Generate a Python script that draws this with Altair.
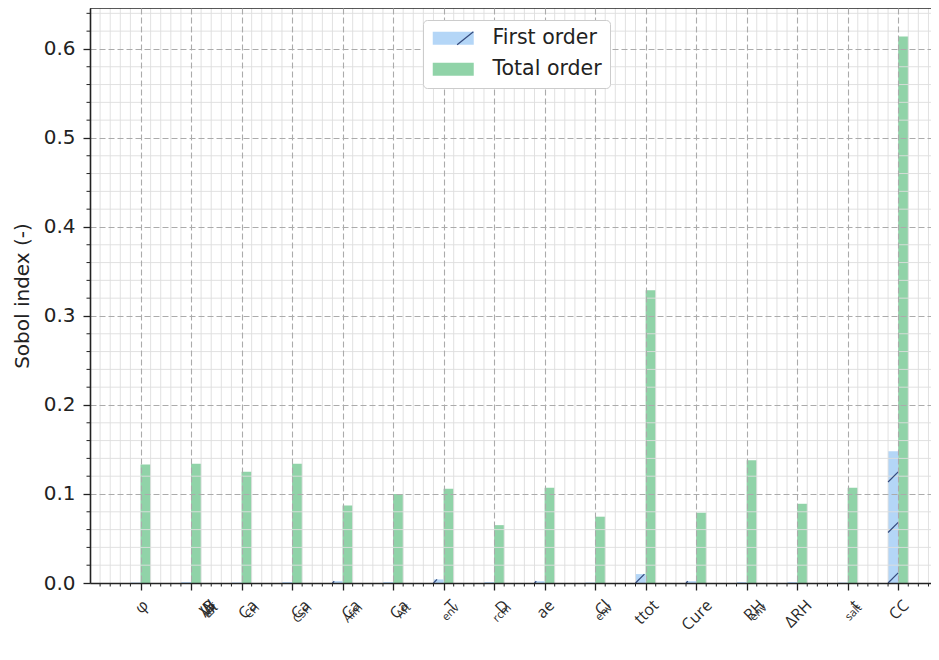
import altair as alt
import pandas as pd

# ---------------- data ----------------
series_names = ["First order", "Total order"]
first_order = [0.0005, 0.001, 0.0005, 0.001, 0.002, 0.001, 0.004, 0.001,
               0.002, 0.0005, 0.010, 0.002, 0.001, 0.001, 0.0005, 0.148]
total_order = [0.133, 0.134, 0.125, 0.134, 0.087, 0.100, 0.106, 0.065,
               0.107, 0.0745, 0.329, 0.079, 0.138, 0.089, 0.107, 0.614]
# tick labels: (text, is_subscript) pieces
tick_labels = [
    [("φ", 0)],
    [("W", 0), ("eff", 1), ("/B", 0), ("tot", 1)],
    [("Ca", 0), ("CH", 1)],
    [("Ca", 0), ("CSH", 1)],
    [("Ca", 0), ("Afm", 1)],
    [("Ca", 0), ("Aft", 1)],
    [("T", 0), ("env", 1)],
    [("D", 0), ("rcm", 1)],
    [("ae", 0)],
    [("Cl", 0), ("env", 1)],
    [("ttot", 0)],
    [("Cure", 0)],
    [("RH", 0), ("env", 1)],
    [("ΔRH", 0)],
    [("t", 0), ("salt", 1)],
    [("CC", 0)],
]
y_major = [0.0, 0.1, 0.2, 0.3, 0.4, 0.5, 0.6]

# ---------------- layout ----------------
W_PLOT, H_PLOT = 841, 575
XMIN, XMAX = -1.0, 15.65
YMAX = 0.646
PPU_X = W_PLOT / (XMAX - XMIN)
PPU_Y = H_PLOT / YMAX
BAR_W = 0.2
MINOR_TICK = 3.5

BLUE = "#b4d6f7"
GREEN = "#90d3a8"
HATCH = "#34497c"
DARK = "#222222"
MINOR_GRID = "#dedede"

n = len(total_order)
df_tot = pd.DataFrame({
    "x": [float(i) for i in range(n)],
    "x2": [i + BAR_W for i in range(n)],
    "y": total_order,
    "y2": [0.0] * n,
    "series": [series_names[1]] * n,
})
df_first = pd.DataFrame({
    "x": [i - BAR_W for i in range(n)],
    "x2": [float(i) for i in range(n)],
    "y": first_order,
    "y2": [0.0] * n,
    "series": [series_names[0]] * n,
})

# hatch segments ("/") inside first-order bars
HATCH_SPACING = 50.5 / PPU_Y
full_dy = BAR_W * PPU_X / PPU_Y
hatch_rows = []
for i, v in enumerate(first_order):
    if v < 0.0015:
        continue
    k = 0
    while k * HATCH_SPACING < v:
        y0 = k * HATCH_SPACING
        x0 = i - BAR_W
        if y0 + full_dy <= v:
            x1, y1 = float(i), y0 + full_dy
        else:
            x1, y1 = x0 + (v - y0) / full_dy * BAR_W, v
        hatch_rows.append({"x": x0, "x2": x1, "y": y0, "y2": y1, "hkey": "h1"})
        k += 1
df_hatch = pd.DataFrame(hatch_rows)

# minor grid / ticks
minor_x = [round(XMIN + 0.2 * k, 1) for k in range(1, 84)
           if abs(XMIN + 0.2 * k - round(XMIN + 0.2 * k)) > 1e-6]
minor_y = [round(0.02 * k, 2) for k in range(1, 33) if k % 5 != 0]
df_vgrid = pd.DataFrame({"x": minor_x, "x2": minor_x,
                         "y": [0.0] * len(minor_x), "y2": [YMAX] * len(minor_x)})
df_hgrid = pd.DataFrame({"x": [XMIN] * len(minor_y), "x2": [XMAX] * len(minor_y),
                         "y": minor_y, "y2": minor_y})
df_vtick = pd.DataFrame({"x": minor_x, "x2": minor_x,
                         "y": [0.0] * len(minor_x),
                         "y2": [-MINOR_TICK / PPU_Y] * len(minor_x)})
df_htick = pd.DataFrame({"x": [XMIN] * len(minor_y),
                         "x2": [XMIN - MINOR_TICK / PPU_X] * len(minor_y),
                         "y": minor_y, "y2": minor_y})
df_spine = pd.DataFrame({"x": [XMIN], "x2": [XMAX], "y": [YMAX], "y2": [YMAX]})

# ---------------- rotated tick labels built from axis labels ----------------
CW = {"a": .556, "b": .613, "c": .476, "d": .613, "e": .561, "f": .339, "i": .253,
      "l": .253, "m": .930, "n": .614, "o": .604, "r": .408, "s": .477, "t": .353,
      "u": .614, "v": .501, "A": .633, "B": .648, "C": .631, "D": .729, "H": .738,
      "R": .631, "S": .550, "T": .556, "W": .928, "/": .363, "Δ": .62, "φ": .77}
FS_MAIN, FS_SUB = 16.0, 11.2
NBSP = "\u00a0"
SP_EM = 0.26
LABEL_PAD = 23.0
SUB_SHIFT = 1.8


def tw(s, fs):
    return sum(CW.get(ch, 0.6) for ch in s) * fs


N_SLOTS = 4
slot_text = [[""] * n for _ in range(N_SLOTS)]
centre_shift = []
for i, segs in enumerate(tick_labels):
    widths = [tw(t, FS_SUB if sub else FS_MAIN) for t, sub in segs]
    total_w = sum(widths)
    centre_shift.append(0.354 * total_w + 4.0)
    for j, ((t, sub), w) in enumerate(zip(segs, widths)):
        fs = FS_SUB if sub else FS_MAIN
        after = sum(widths[j + 1:])
        npad = int(round(after / (SP_EM * fs)))
        slot_text[j][i] = t + NBSP * npad

# ---------------- scales / axes / legends ----------------
sx = alt.Scale(domain=[XMIN, XMAX], nice=False, zero=False)
sy = alt.Scale(domain=[0, YMAX], nice=False, zero=False)
color_scale = alt.Scale(domain=series_names, range=[BLUE, GREEN])
hatch_scale = alt.Scale(domain=["h1", "h2"], range=[HATCH, "rgba(0,0,0,0)"])

AX_X = alt.Axis(values=list(range(n)), orient="bottom", labels=False,
                tickSize=7, tickWidth=1.3, tickColor=DARK,
                grid=True, gridColor="#ababab", gridWidth=1.1,
                gridDash=[6, 3], domain=True, domainColor=DARK,
                domainWidth=1.6, title=None, zindex=1)
AX_Y = alt.Axis(values=y_major, format=".1f", orient="left",
                labelFont="DejaVu Sans", labelFontSize=20,
                labelColor=DARK, labelPadding=8,
                tickSize=7, tickWidth=1.3, tickColor=DARK,
                grid=True, gridColor="#ababab", gridWidth=1.1,
                gridDash=[6, 3], domain=True, domainColor=DARK,
                domainWidth=1.6, title="Sobol index (-)",
                titleFont="DejaVu Sans", titleFontSize=20,
                titleFontWeight="normal", titleColor=DARK,
                titleX=-68, titleBaseline="middle", zindex=1)

leg_common = dict(title=None, orient="none", legendX=333, legendY=12,
                  direction="vertical", symbolSize=169, symbolOffset=12,
                  labelFont="DejaVu Sans", labelFontSize=20.5, labelOffset=29,
                  padding=8, rowPadding=10, labelLimit=400)
fill_legend = alt.Legend(symbolType="M-3.154,-1H3.154V1H-3.154Z",
                         symbolStrokeWidth=0, labelColor=DARK,
                         strokeColor="#cccccc", fillColor="#ffffff",
                         cornerRadius=4, zindex=3, **leg_common)
hatch_legend = alt.Legend(symbolType="M0.6,1L3.1,-1", symbolStrokeWidth=1.2,
                          symbolFillColor="transparent", labelExpr="' '",
                          labelColor="rgba(0,0,0,0)", zindex=4, **leg_common)


def pos(chart, ax_x=None, ax_y=None, with2=True):
    enc = dict(x=alt.X("x:Q", scale=sx, axis=ax_x),
               y=alt.Y("y:Q", scale=sy, axis=ax_y))
    if with2:
        enc["x2"] = alt.X2("x2:Q")
        enc["y2"] = alt.Y2("y2:Q")
    return chart.encode(**enc)


layer_tot = pos(alt.Chart(df_tot).mark_rect(), AX_X, AX_Y).encode(
    fill=alt.Fill("series:N", scale=color_scale, legend=fill_legend))
layer_first = pos(alt.Chart(df_first).mark_rect()).encode(
    fill=alt.Fill("series:N", scale=color_scale, legend=fill_legend))
layer_vgrid = pos(alt.Chart(df_vgrid).mark_rule(color=MINOR_GRID, strokeWidth=0.9))
layer_hgrid = pos(alt.Chart(df_hgrid).mark_rule(color=MINOR_GRID, strokeWidth=0.9))
layer_vtick = pos(alt.Chart(df_vtick).mark_rule(color=DARK, strokeWidth=1))
layer_htick = pos(alt.Chart(df_htick).mark_rule(color=DARK, strokeWidth=1))
layer_spine = pos(alt.Chart(df_spine).mark_rule(color=DARK, strokeWidth=1.6))
layer_hatch = pos(alt.Chart(df_hatch).mark_rule(strokeWidth=1.2)).encode(
    stroke=alt.Stroke("hkey:N", scale=hatch_scale, legend=hatch_legend))

label_layers = []
for j in range(N_SLOTS):
    is_sub = (j % 2 == 1)
    fs = FS_SUB if is_sub else FS_MAIN
    extra = SUB_SHIFT if is_sub else 0.0
    vals = [i + (centre_shift[i] + extra) / PPU_X for i in range(n)]
    expr = "[" + ",".join("'" + s + "'" for s in slot_text[j]) + "][floor(datum.value)]"
    ax = alt.Axis(values=vals, labelExpr=expr, orient="bottom",
                  ticks=False, tickSize=0, domain=False, grid=False,
                  labelAngle=315, labelAlign="right", labelBaseline="alphabetic",
                  labelPadding=LABEL_PAD + extra, labelFont="Open Sans",
                  labelFontSize=fs, labelColor="#2a2a2a", labelLimit=500,
                  labelOverlap=False, labelFlush=False, labelBound=False,
                  title=None, zindex=1)
    label_layers.append(
        pos(alt.Chart(df_tot).mark_point(opacity=0), ax, None, with2=False))

chart = alt.layer(
    layer_tot, layer_first, layer_vgrid, layer_hgrid, layer_vtick, layer_htick,
    layer_spine, layer_hatch, *label_layers
).resolve_scale(
    x="independent", y="independent"
).properties(
    width=W_PLOT, height=H_PLOT,
    autosize=alt.AutoSizeParams(type="none"),
    padding={"left": 82, "top": 0, "right": 0, "bottom": 63},
    background="white",
).configure_view(stroke=None)

chart.save("out.html", embed_options={"renderer": "svg", "actions": False})
